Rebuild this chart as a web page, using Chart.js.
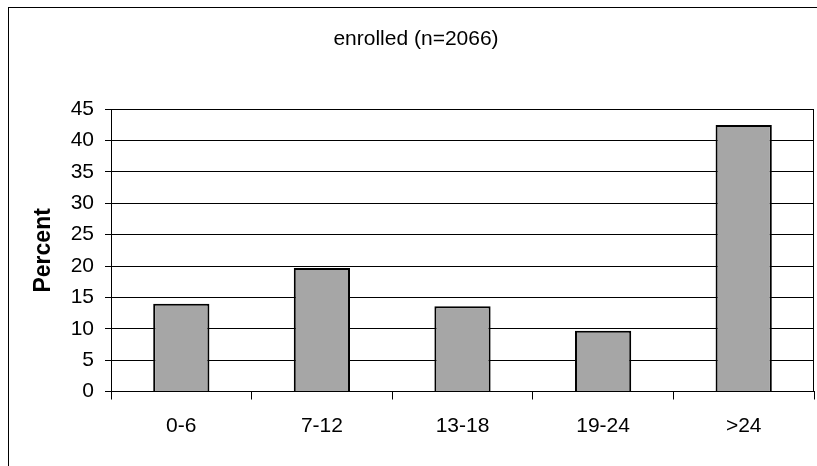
<!DOCTYPE html>
<html>
<head>
<meta charset="utf-8">
<script src="https://cdn.jsdelivr.net/npm/chart.js@4"></script>
<style>
  html, body { margin: 0; padding: 0; background: #fff; }
  #wrap { width: 817px; height: 466px; }
</style>
</head>
<body>
<div id="wrap"><canvas id="results-g"></canvas></div>
<script>
const categories = ['0-6', '7-12', '13-18', '19-24', '>24'];
const percents = [14.0, 19.7, 13.6, 9.7, 42.5];
const yTicks = [0, 5, 10, 15, 20, 25, 30, 35, 40, 45];
const chartTitle = 'enrolled (n=2066)';
const yTitle = 'Percent';

const fontFamily = '"Liberation Sans", Arial, sans-serif';

// outer frame and the right edge of the plot box
const frame = {
    id: 'frame',
    beforeDraw(chart) {
        const c = chart.ctx;
        c.save();
        c.strokeStyle = '#000';
        c.lineWidth = 1;
        c.strokeRect(8.5, 7.5, 1000, 1000);
        c.restore();
    },
    afterDatasetsDraw(chart) {
        const a = chart.chartArea;
        const c = chart.ctx;
        c.save();
        c.strokeStyle = '#000';
        c.lineWidth = 1;
        c.beginPath();
        c.moveTo(a.right - 0.5, a.top);
        c.lineTo(a.right - 0.5, a.bottom);
        c.stroke();
        c.restore();
    }
};

const ctx = document.getElementById('results-g');

const data = {
    labels: categories,
    datasets: [{
        label: 'Percent',
        data: percents,
        backgroundColor: '#a6a6a6',
        borderColor: '#000',
        borderWidth: 2,
        barPercentage: 0.4,
        categoryPercentage: 1
    }]
};

const config = {
    type: 'bar',
    data: data,
    options: {
        responsive: true,
        maintainAspectRatio: false,
        animation: false,
        layout: {padding: {left: 18, right: 3, top: 0, bottom: 0}},
        plugins: {
            legend: {display: false},
            tooltip: {enabled: false},
            title: {
                display: true,
                text: chartTitle,
                color: '#000',
                font: {family: fontFamily, size: 21, weight: 'normal'},
                padding: {top: 27, bottom: 57}
            }
        },
        scales: {
            x: {
                afterFit: (s) => { s.height = 74.5; },
                grid: {display: true, drawOnChartArea: false, drawTicks: true, tickLength: 8, color: '#000', offset: true},
                border: {display: true, color: '#000', width: 1},
                ticks: {color: '#000', font: {family: fontFamily, size: 21}, padding: 14, maxRotation: 0}
            },
            y: {
                min: 0,
                max: 45,
                afterFit: (s) => { s.width = 93; },
                afterBuildTicks: (s) => { s.ticks = yTicks.map(v => ({value: v})); },
                grid: {color: '#000', lineWidth: 1, drawTicks: true, tickLength: 6},
                border: {display: true, color: '#000', width: 1},
                ticks: {color: '#000', font: {family: fontFamily, size: 21}, padding: 11},
                title: {
                    display: true,
                    text: yTitle,
                    color: '#000',
                    font: {family: fontFamily, size: 23, weight: 'bold'},
                    padding: {top: 12, bottom: 0}
                }
            }
        }
    },
    plugins: [frame]
};

new Chart(ctx, config);
</script>
</body>
</html>
